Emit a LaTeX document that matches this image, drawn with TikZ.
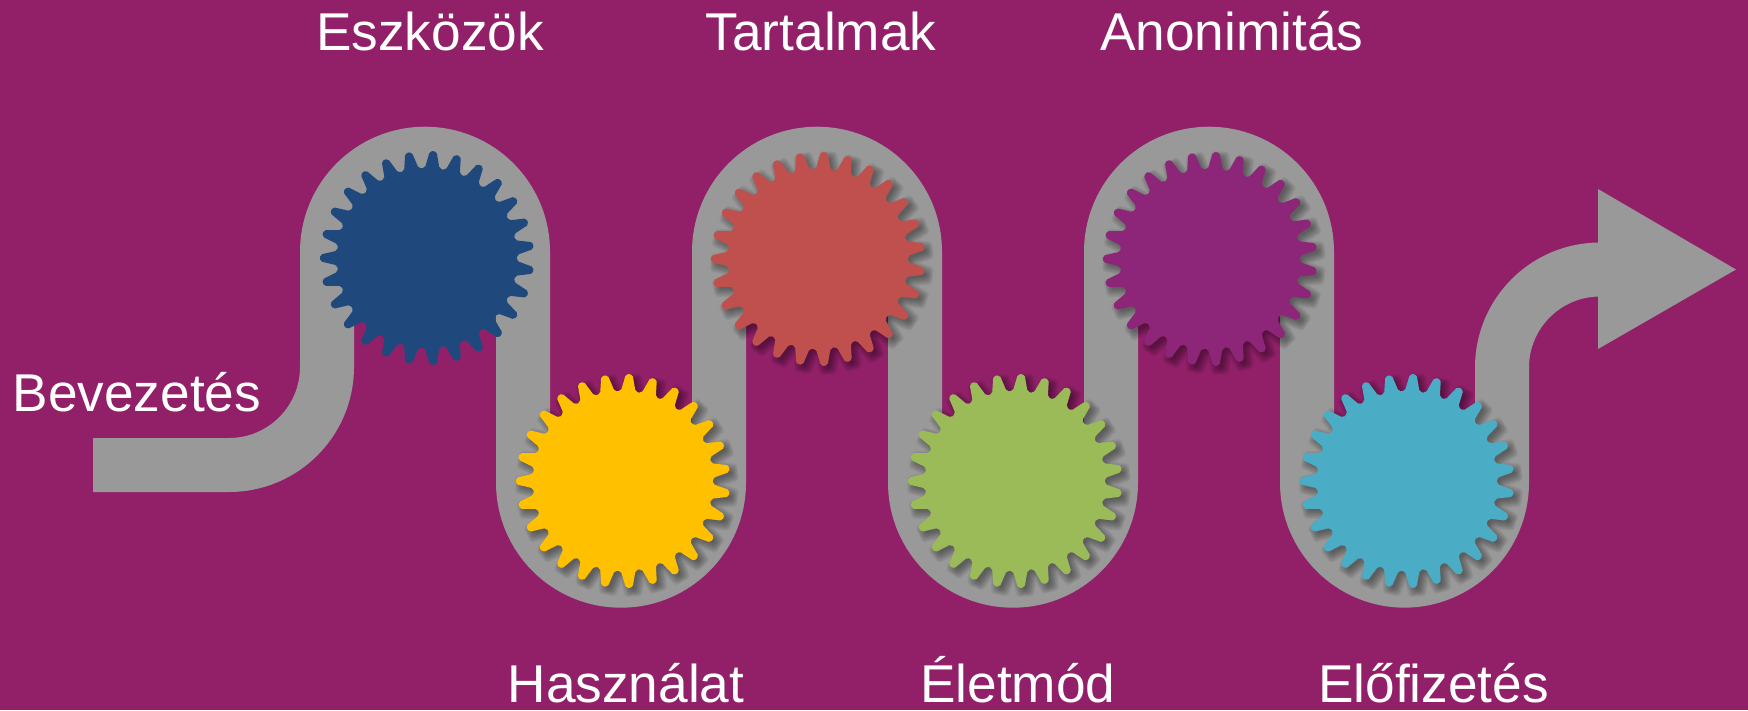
\documentclass[tikz,border=0pt]{standalone}
\usepackage{fontspec}
\setmainfont{Liberation Sans}
\usepackage{xcolor}
\definecolor{backpurple}{RGB}{145, 32, 105}
\definecolor{roadgray}{RGB}{153, 153, 153}
\definecolor{gearblue}{RGB}{31, 73, 125}
\definecolor{gearyellow}{RGB}{255, 192, 0}
\definecolor{gearred}{RGB}{192, 80, 77}
\definecolor{gearplum}{RGB}{141, 38, 120}
\definecolor{geargreen}{RGB}{155, 187, 89}
\definecolor{gearteal}{RGB}{75, 172, 198}

% Zahnrad mit 27 Zaehnen um (#1,#2), Kontur um #3 versetzt
\newcommand{\gearat}[4]{%
  \begin{scope}[shift={(#1,#2)}]
    \pgfmathsetmacro\rootrad{90+#3}
    \pgfmathsetmacro\tiprad{107+#3}
    \pgfmathsetmacro\rootang{(7.4+#3)/\rootrad*57.3}
    \pgfmathsetmacro\tipang{(3.3+#3)/\tiprad*57.3}
    \fill[rounded corners=2pt, #4]
      (180-6.6667:\rootrad) \foreach \t in {0,...,26} {
        -- (180+\t*13.3333-\rootang:\rootrad) -- (180+\t*13.3333-\tipang:\tiprad)
        -- (180+\t*13.3333+\tipang:\tiprad) -- (180+\t*13.3333+\rootang:\rootrad)
      } -- cycle;
  \end{scope}}

\tikzset{
  label/.style={anchor=base west, inner sep=0pt, text=white, font=\fontsize{53.2}{60}\selectfont},
}

\begin{document}
\begin{tikzpicture}[x=1pt, y=-1pt]
    % Hintergrund
    \path[use as bounding box, fill=backpurple] (0,0) rectangle (1748,710);

    % Graues Band als Schlangenlinie
    \draw[roadgray, line width=54pt, rounded corners=98pt]
      (93,465) -- (327,465) -- (327,153.7) -- (523,153.7) -- (523,580.7)
      -- (719,580.7) -- (719,153.7) -- (915,153.7) -- (915,580.7)
      -- (1111,580.7) -- (1111,153.7) -- (1307,153.7) -- (1307,580.7)
      -- (1502,580.7) -- (1502,269.5) -- (1600,269.5);

    % Pfeilspitze
    \fill[roadgray] (1598,189) -- (1736,269.5) -- (1598,349) -- cycle;

    % Blaues Zahnrad ohne Schatten
    \gearat{427}{258}{0}{gearblue}

    % Zahnraeder mit weichem Schatten nach rechts unten
    \foreach \gx/\gy/\gc in {623/481/gearyellow, 818/259/gearred, 1015/481/geargreen,
                             1210/259/gearplum, 1407/481/gearteal} {
      \foreach \d in {5,4,3,2,1,0,-1,-2} {
        \gearat{\gx+4}{\gy+4}{\d}{black, opacity=0.055}
      }
      \gearat{\gx}{\gy}{0}{\gc}
    }

    % Beschriftungen
    \node[label] (eszkozok) at (316,50) {Eszközök};
    \node[label] (tartalmak) at (705.5,50) {Tartalmak};
    \node[label] (anonimitas) at (1100,50) {Anonimitás};
    \node[label] (bevezetes) at (12.5,411) {Bevezetés};
    \node[label] (hasznalat) at (507.5,702) {Használat};
    \node[label] (eletmod) at (920,702) {Életmód};
    \node[label] (elofizetes) at (1318,702) {Előfizetés};
\end{tikzpicture}
\end{document}
